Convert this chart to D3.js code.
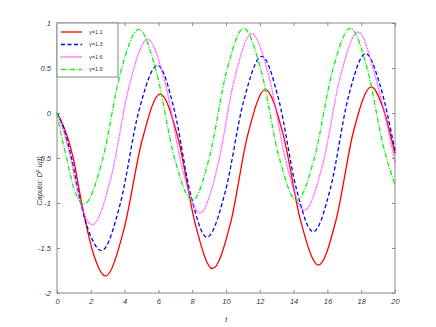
<!DOCTYPE html>
<html>
<head>
<meta charset="utf-8">
<script src="https://cdn.jsdelivr.net/npm/d3@7"></script>
<style>
  body { margin: 0; background: #fff; }
  svg { display: block; }
  .tick text { font-family: "Liberation Sans", Arial, sans-serif; font-style: italic; }
</style>
</head>
<body>
<svg id="chart"></svg>
<script>
// values: [t, u] pairs
var red11 = [[0,0],[0.2,-0.07],[0.96,-0.5],[1.46,-1.0],[2.1,-1.53],[2.87,-1.81],
  [3.95,-1.3],[5.04,-0.3],[6.1,0.21],[7.15,-0.27],[8.19,-1.24],[9.2,-1.73],
  [10.26,-1.23],[11.29,-0.24],[12.33,0.26],[13.37,-0.23],[14.42,-1.2],[15.47,-1.69],
  [16.51,-1.19],[17.55,-0.2],[18.6,0.29],[19.3,0.05],[20,-0.45]];
var blue13 = [[0,0],[0.3,-0.12],[0.86,-0.5],[1.4,-1.0],[2.0,-1.37],[2.63,-1.53],
  [3.74,-1.01],[4.84,0.02],[5.96,0.53],[6.92,0.05],[7.9,-0.9],[8.87,-1.38],
  [9.95,-0.88],[11.04,0.13],[12.12,0.63],[13.13,0.14],[14.15,-0.83],[15.16,-1.32],
  [16.2,-0.82],[17.23,0.17],[18.27,0.66],[19.1,0.32],[20,-0.42]];
var mag16 = [[0,0],[0.3,-0.15],[0.77,-0.48],[1.36,-0.98],[1.75,-1.18],[2.1,-1.24],
  [3.19,-0.72],[4.27,0.3],[5.36,0.82],[6.39,0.34],[7.43,-0.63],[8.47,-1.11],
  [9.48,-0.61],[10.5,0.38],[11.52,0.88],[12.56,0.39],[13.61,-0.59],[14.64,-1.08],
  [15.71,-0.58],[16.76,0.4],[17.82,0.9],[18.9,0.36],[20,-0.55]];
var green19 = [[0,0],[0.25,-0.24],[0.57,-0.5],[1.0,-0.84],[1.61,-1.01],
  [2.69,-0.52],[3.76,0.45],[4.84,0.93],[5.89,0.45],[6.95,-0.5],[8.02,-0.97],
  [9.02,-0.49],[10.03,0.46],[11.05,0.94],[12.09,0.46],[13.14,-0.49],[14.18,-0.97],
  [15.24,-0.49],[16.29,0.46],[17.35,0.94],[18.4,0.46],[19.3,-0.36],[20,-0.8]];

var seriesNames = ["\u03b3=1.1", "\u03b3=1.3", "\u03b3=1.6", "\u03b3=1.9"];
var seriesData = [red11, blue13, mag16, green19];
var xTicks = [0, 2, 4, 6, 8, 10, 12, 14, 16, 18, 20];
var yTicks = [1, 0.5, 0, -0.5, -1, -1.5, -2];

var colors = ["#ff0000", "#0000ff", "#ff44ff", "#11ee11"];
var dashes = [null, "4,2.5", "1,0.6", "5,1.5,1,1.5"];

var svg = d3.select("#chart").attr("width", 436).attr("height", 327),
    margin = {top: 23, right: 41, bottom: 34, left: 57},
    width = 436 - margin.left - margin.right,
    height = 327 - margin.top - margin.bottom,
    g = svg.append("g").attr("transform", "translate(" + margin.left + "," + margin.top + ")");

var x = d3.scaleLinear().domain([0, 20]).range([0, width]);
var y = d3.scaleLinear().domain([-2, 1]).range([height, 0]);

function styleAxis(sel, showText) {
    sel.select(".domain").remove();
    sel.selectAll(".tick line").attr("stroke", "#888");
    sel.selectAll(".tick text").attr("fill", "#333").attr("font-size", "7.5px");
    if (!showText) sel.selectAll(".tick text").remove();
}

g.append("g")
    .attr("transform", "translate(0," + height + ")")
    .call(d3.axisBottom(x).tickValues(xTicks).tickFormat(d3.format("d")).tickSizeInner(-3).tickPadding(6))
    .call(styleAxis, true);
g.append("g")
    .call(d3.axisTop(x).tickValues(xTicks).tickSizeInner(-3))
    .call(styleAxis, false);
g.append("g")
    .call(d3.axisLeft(y).tickValues(yTicks).tickFormat(function(d) { return String(d); }).tickSizeInner(-3).tickPadding(6))
    .call(styleAxis, true);
g.append("g")
    .attr("transform", "translate(" + width + ",0)")
    .call(d3.axisRight(y).tickValues(yTicks).tickSizeInner(-3))
    .call(styleAxis, false);

// box
g.append("rect")
    .attr("width", width).attr("height", height)
    .attr("fill", "none").attr("stroke", "#888").attr("stroke-width", 1);

var line = d3.line()
    .x(function(d) { return x(d[0]); })
    .y(function(d) { return y(d[1]); })
    .curve(d3.curveMonotoneX);

g.append("g").selectAll("path")
    .data(seriesData)
    .enter().append("path")
    .attr("d", line)
    .attr("fill", "none")
    .attr("stroke", function(d, i) { return colors[i]; })
    .attr("stroke-width", 1.3)
    .attr("stroke-dasharray", function(d, i) { return dashes[i]; });

// axis labels
svg.append("text")
    .attr("x", margin.left + x(10)).attr("y", 322)
    .attr("text-anchor", "middle")
    .attr("font-family", "Liberation Sans, Arial, sans-serif")
    .attr("font-style", "italic").attr("font-size", "8px").attr("fill", "#333")
    .text("t");

var ylab = svg.append("text")
    .attr("transform", "translate(42,181) rotate(-90)")
    .attr("text-anchor", "middle")
    .attr("font-family", "Liberation Sans, Arial, sans-serif")
    .attr("font-style", "italic").attr("font-size", "7.5px").attr("fill", "#333");
ylab.append("tspan").text("Caputo: D");
ylab.append("tspan").attr("dy", "-3").attr("font-size", "5px").text("\u03b3");
ylab.append("tspan").attr("dy", "3").text(" u(t)");

// legend
var legend = g.append("g");
legend.append("rect")
    .attr("x", 0).attr("y", 0).attr("width", 61).attr("height", 54)
    .attr("fill", "#fff").attr("stroke", "#888");
var items = legend.selectAll("g.item")
    .data(seriesNames)
    .enter().append("g")
    .attr("class", "item")
    .attr("transform", function(d, i) { return "translate(0," + (9 + i * 12.5) + ")"; });
items.append("line")
    .attr("x1", 4).attr("x2", 25)
    .attr("stroke", function(d, i) { return colors[i]; })
    .attr("stroke-width", 1.3)
    .attr("stroke-dasharray", function(d, i) { return dashes[i]; });
items.append("text")
    .attr("x", 32).attr("dy", "0.32em")
    .attr("font-family", "Liberation Sans, Arial, sans-serif")
    .attr("font-size", "5.5px").attr("fill", "#333")
    .text(function(d) { return d; });
</script>
</body>
</html>
